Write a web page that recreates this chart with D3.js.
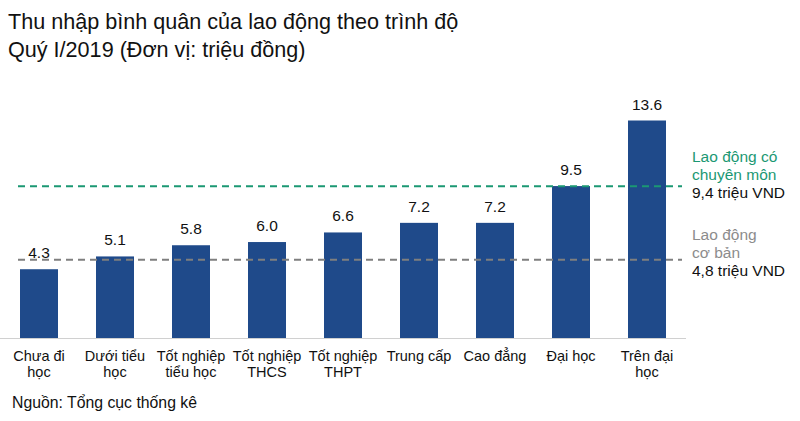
<!DOCTYPE html>
<html>
<head>
<meta charset="utf-8">
<script src="https://cdn.jsdelivr.net/npm/d3@7"></script>
<style>
  body { margin: 0; background: #fff; }
  text { font-family: "Liberation Sans", Arial, sans-serif; }
</style>
</head>
<body>
<div id="chart"></div>
<script>
var categories = [
    ["Chưa đi", "học"],
    ["Dưới tiểu", "học"],
    ["Tốt nghiệp", "tiểu học"],
    ["Tốt nghiệp", "THCS"],
    ["Tốt nghiệp", "THPT"],
    ["Trung cấp"],
    ["Cao đẳng"],
    ["Đại học"],
    ["Trên đại", "học"]
];
var values = [4.3, 5.1, 5.8, 6.0, 6.6, 7.2, 7.2, 9.5, 13.6];
var refValues = [9.4, 4.8];
var refLabels = [
    ["Lao động có", "chuyên môn", "9,4 triệu VND"],
    ["Lao động", "cơ bản", "4,8 triệu VND"]
];
var titleLines = ["Thu nhập bình quân của lao động theo trình độ", "Quý I/2019 (Đơn vị: triệu đồng)"];
var sourceText = "Nguồn: Tổng cục thống kê";

var W = 800, H = 421;
var baseline = 338;
var plotLeft = 1, plotW = 684;

var svg = d3.select("#chart")
    .append("svg")
    .attr("width", W)
    .attr("height", H);

var xAxis = d3.scaleBand()
    .domain(d3.range(values.length))
    .range([plotLeft, plotLeft + plotW])
    .paddingInner(0.5)
    .paddingOuter(0.25);

var yAxis = d3.scaleLinear()
    .domain([0, 13.6])
    .range([baseline, 120.5]);

// title
svg.append("g").selectAll("text")
    .data(titleLines)
    .enter()
    .append("text")
    .attr("x", 8)
    .attr("y", function (d, i) { return 29 + i * 28; })
    .attr("font-size", 21.6)
    .attr("fill", "#111")
    .text(function (d) { return d; });

// bars
svg.append("g").selectAll("rect")
    .data(values)
    .enter()
    .append("rect")
    .attr("x", function (d, i) { return xAxis(i); })
    .attr("y", function (d) { return yAxis(d); })
    .attr("width", xAxis.bandwidth())
    .attr("height", function (d) { return baseline - yAxis(d); })
    .attr("fill", "#1f4a8a");

// value labels
svg.append("g").selectAll("text")
    .data(values)
    .enter()
    .append("text")
    .attr("x", function (d, i) { return xAxis(i) + xAxis.bandwidth() / 2; })
    .attr("y", function (d) { return yAxis(d) - 11; })
    .attr("font-size", 15.5)
    .attr("fill", "#111")
    .style("text-anchor", "middle")
    .text(function (d) { return d.toFixed(1); });

// baseline axis
svg.append("line")
    .attr("x1", 0)
    .attr("x2", 686)
    .attr("y1", baseline + 0.5)
    .attr("y2", baseline + 0.5)
    .attr("stroke", "#d0d0d0")
    .attr("stroke-width", 1);

// category labels
var cat = svg.append("g").selectAll("text")
    .data(categories)
    .enter()
    .append("text")
    .attr("font-size", 14.5)
    .attr("fill", "#111")
    .style("text-anchor", "middle");
cat.selectAll("tspan")
    .data(function (d, i) { return d.map(function (t) { return {t: t, i: i}; }); })
    .enter()
    .append("tspan")
    .attr("x", function (d) { return xAxis(d.i) + xAxis.bandwidth() / 2; })
    .attr("y", function (d, j) { return 361 + j * 16; })
    .text(function (d) { return d.t; });

// reference lines
var refColors = ["#1b9873", "#7f7f7f"];
var refTextColors = ["#1b9873", "#8c8c8c"];
svg.append("g").selectAll("line")
    .data(refValues)
    .enter()
    .append("line")
    .attr("x1", 18)
    .attr("x2", 682)
    .attr("y1", function (d) { return yAxis(d) - 1.5; })
    .attr("y2", function (d) { return yAxis(d) - 1.5; })
    .attr("stroke", function (d, i) { return refColors[i]; })
    .attr("stroke-width", 2)
    .attr("stroke-dasharray", "7,5");

// reference labels
var refText = svg.append("g").selectAll("text")
    .data(refLabels)
    .enter()
    .append("text")
    .attr("font-size", 15.5);
refText.selectAll("tspan")
    .data(function (d, i) { return d.map(function (t) { return {t: t, i: i}; }); })
    .enter()
    .append("tspan")
    .attr("x", 692)
    .attr("y", function (d, j) { return (d.i === 0 ? 162 : 240) + j * 17.8; })
    .attr("fill", function (d, j) { return j === 2 ? "#111" : refTextColors[d.i]; })
    .text(function (d) { return d.t; });

// source
svg.append("text")
    .attr("x", 12)
    .attr("y", 408)
    .attr("font-size", 15.8)
    .attr("fill", "#111")
    .text(sourceText);
</script>
</body>
</html>
